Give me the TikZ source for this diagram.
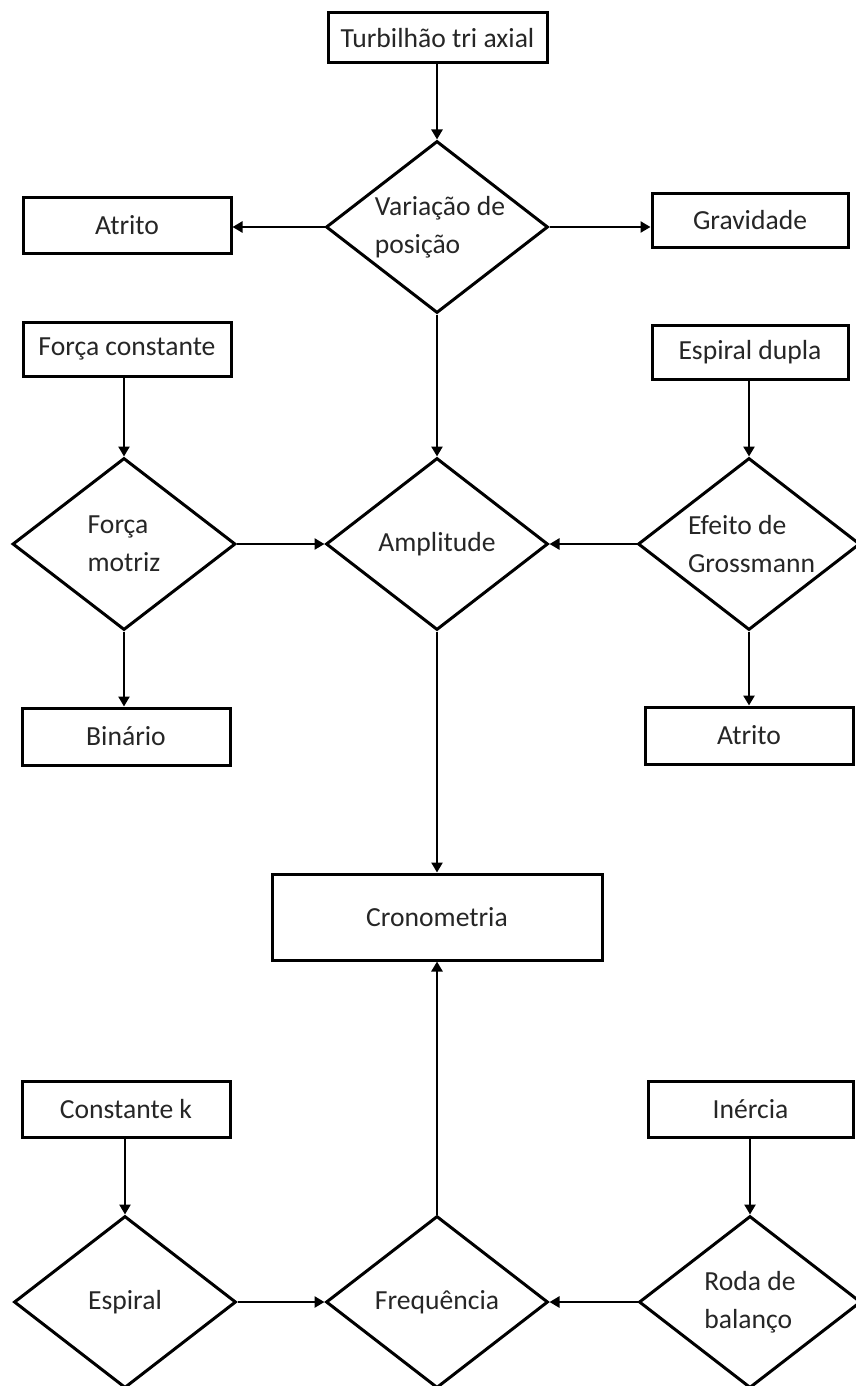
\documentclass[tikz,border=0pt]{standalone}
\usepackage{fontspec}
\setmainfont{Carlito}
\usetikzlibrary{shapes.geometric,arrows.meta}
\tikzset{
  box/.style={draw, line width=3pt, rectangle, inner sep=0pt, text=black!85},
  dia/.style={draw, line width=3pt, diamond, inner sep=0pt, shape aspect=1.29,
     minimum width=222pt, minimum height=172pt, align=left, text=black!85},
  arr/.style={line width=2.8pt, -{Triangle[width=11pt,length=10pt]}},
}
\begin{document}
\begin{tikzpicture}[x=1pt,y=-1pt,font=\fontsize{27.6}{38}\selectfont]
\useasboundingbox (0,0) rectangle (855,1386);
\fill[white] (0,0) rectangle (855,1386);
% boxes
\node[box, minimum width=219pt, minimum height=50pt] (turb) at (437.5,38) {Turbilhão tri axial};
\node[box, minimum width=208pt, minimum height=56pt] (atrL) at (127,225) {Atrito};
\node[box, minimum width=196pt, minimum height=54pt] (grav) at (750,220) {Gravidade};
\node[box, minimum width=208pt, minimum height=54pt] (fc) at (127,349) {Força constante};
\node[box, minimum width=208pt, minimum height=57pt] (bin) at (126,736.5) {Binário};
\node[box, minimum width=196pt, minimum height=54pt] (ed) at (750,352) {Espiral dupla};
\node[box, minimum width=208pt, minimum height=57pt] (atrR) at (749,735.5) {Atrito};
\node[box, minimum width=330pt, minimum height=86pt] (cron) at (437,917) {Cronometria};
\node[box, minimum width=208pt, minimum height=56pt] (ck) at (126,1109) {Constante k};
\node[box, minimum width=205pt, minimum height=56pt] (iner) at (750.5,1109) {Inércia};
% diamonds
\node[dia] (var) at (437,227) {\hspace*{6pt}Variação de\\\hspace*{6pt}posição};
\node[dia, minimum width=223pt] (fm) at (124,544) {Força\\motriz};
\node[dia] (amp) at (437,544) {Amplitude};
\node[dia] (eg) at (749,544) {\hspace*{5pt}Efeito de\\\hspace*{5pt}Grossmann};
\node[dia] (esp) at (125,1302) {Espiral};
\node[dia] (freq) at (437,1302) {Frequência};
\node[dia] (rb) at (750,1302) {Roda de\\balanço};
% connectors
\draw[arr] (var.north |- turb.south) -- (var.north);
\draw[arr] (var.west) -- (var.west -| atrL.east);
\draw[arr] (var.east) -- (var.east -| grav.west);
\draw[arr] (var.south) -- (amp.north);
\draw[arr] (fm.north |- fc.south) -- (fm.north);
\draw[arr] (fm.south) -- (fm.south |- bin.north);
\draw[arr] (eg.north |- ed.south) -- (eg.north);
\draw[arr] (eg.south) -- (eg.south |- atrR.north);
\draw[arr] (fm.east) -- (amp.west);
\draw[arr] (eg.west) -- (amp.east);
\draw[arr] (amp.south) -- (amp.south |- cron.north);
\draw[arr] (freq.north) -- (freq.north |- cron.south);
\draw[arr] (esp.north |- ck.south) -- (esp.north);
\draw[arr] (rb.north |- iner.south) -- (rb.north);
\draw[arr] (esp.east) -- (freq.west);
\draw[arr] (rb.west) -- (freq.east);
\end{tikzpicture}
\end{document}
